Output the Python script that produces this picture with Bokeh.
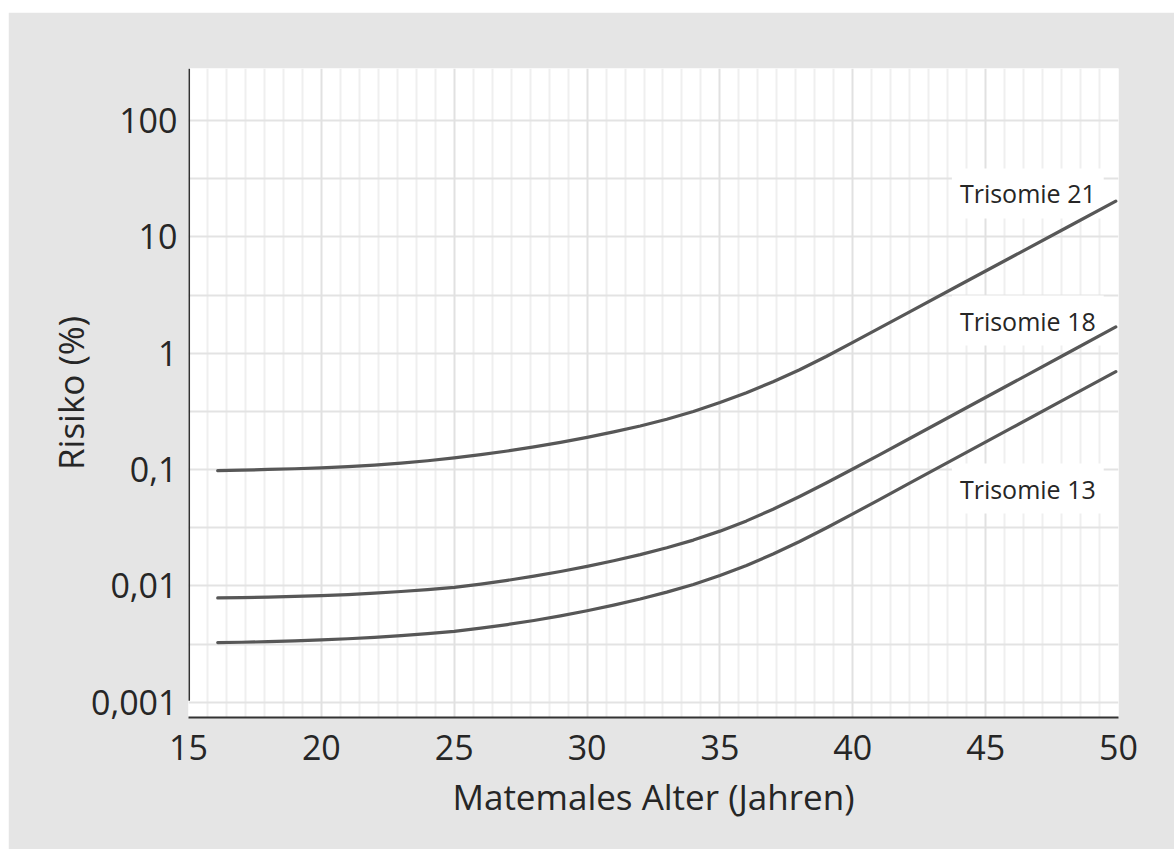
from bokeh.plotting import figure
from bokeh.models import Range1d, FixedTicker, Grid, Label
from bokeh.embed import file_html
from bokeh.resources import INLINE

# ---- data ----
ages = [16.1, 17, 18, 19, 20, 21, 22, 23, 24, 25, 26, 27, 28, 29, 30, 31, 32, 33, 34, 35,
        36, 37, 38, 39, 40, 41, 42, 44, 46, 48, 49.9]
trisomie21 = [0.09795, 0.09886, 0.10023, 0.10162, 0.10328, 0.10593, 0.10940, 0.11376, 0.11912,
              0.12589, 0.13428, 0.14454, 0.15668, 0.17140, 0.18923, 0.21086, 0.23714, 0.27102,
              0.31550, 0.37670, 0.45709, 0.56885, 0.72111, 0.93756, 1.2417, 1.6462, 2.1827,
              3.8371, 6.7453, 11.858, 20.277]
trisomie18 = [0.007889, 0.007943, 0.008017, 0.008128, 0.008260, 0.008433, 0.008670, 0.008954,
              0.009311, 0.009727, 0.010375, 0.011169, 0.012134, 0.013305, 0.014723, 0.016444,
              0.018578, 0.021281, 0.024774, 0.029580, 0.036224, 0.045604, 0.058749, 0.076736,
              0.10116, 0.13397, 0.17783, 0.31405, 0.55463, 0.97949, 1.6827]
trisomie13 = [0.0032584, 0.0032810, 0.0033189, 0.0033729, 0.0034356, 0.0035156, 0.0036141,
              0.0037411, 0.0038905, 0.0040738, 0.0043351, 0.0046559, 0.0050466, 0.0055335,
              0.0061235, 0.0068391, 0.0077268, 0.0088512, 0.010304, 0.012274, 0.014997,
              0.018793, 0.024099, 0.031477, 0.041591, 0.055271, 0.073451, 0.12972, 0.22909,
              0.40458, 0.69502]
series_names = ["Trisomie 21", "Trisomie 18", "Trisomie 13"]
label_y = [23.6, 1.91, 0.0687]   # vertical position of each series label
label_x = 43.73

x_ticks = [15, 20, 25, 30, 35, 40, 45, 50]
y_ticks = [0.001, 0.01, 0.1, 1, 10, 100]
y_tick_labels = ["0,001", "0,01", "0,1", "1", "10", "100"]

X_START, X_END = 15, 50
Y_START, Y_END = 0.00074, 280

FONT = "Open Sans"
TEXT = "#262626"
LINE = "#575757"

p = figure(width=1166, height=837, y_axis_type="log",
           x_range=Range1d(X_START, X_END), y_range=Range1d(Y_START, Y_END),
           output_backend="svg", toolbar_location=None,
           min_border_left=180, min_border_right=56, min_border_top=56, min_border_bottom=132)
p.margin = (12, 0, 0, 8)
p.border_fill_color = "#e5e5e5"
p.background_fill_color = "white"
p.outline_line_color = None

# grids
minor_x = [X_START + k * 5 / 7 for k in range(1, 49) if k % 7 != 0]
p.xgrid.ticker = FixedTicker(ticks=minor_x)
p.xgrid.grid_line_color = "#efefef"
p.xgrid.grid_line_width = 2
p.add_layout(Grid(dimension=0, ticker=FixedTicker(ticks=x_ticks[1:-1]),
                  grid_line_color="#e1e1e1", grid_line_width=2))
half_decades = [10 ** (k / 2) for k in range(-7, 5)]
p.ygrid.ticker = FixedTicker(ticks=half_decades)
p.ygrid.grid_line_color = "#e3e3e3"
p.ygrid.grid_line_width = 2

# labels (white boxes sit under the curves)
for name, ly in zip(series_names, label_y):
    p.add_layout(Label(x=label_x, y=ly, text=name, text_font=FONT, text_font_size="25px",
                       text_color=TEXT, text_baseline="middle", text_align="left",
                       background_fill_color="white", padding=8, level="underlay"))

# curves
for vals in (trisomie21, trisomie18, trisomie13):
    p.line(ages, vals, line_color=LINE, line_width=3.2, line_cap="round", line_join="round")

# axes
p.xaxis.ticker = FixedTicker(ticks=x_ticks)
p.yaxis.ticker = FixedTicker(ticks=y_ticks)
p.yaxis.major_label_overrides = {t: s for t, s in zip(y_ticks, y_tick_labels)}
for ax in (p.xaxis[0], p.yaxis[0]):
    ax.major_tick_line_color = None
    ax.minor_tick_line_color = None
    ax.major_label_text_font = FONT
    ax.major_label_text_font_size = "34px"
    ax.major_label_text_color = TEXT
    ax.axis_label_text_font = FONT
    ax.axis_label_text_font_size = "35px"
    ax.axis_label_text_font_style = "normal"
    ax.axis_label_text_color = TEXT
p.xaxis.major_label_standoff = 11
p.yaxis.major_label_standoff = 5
p.xaxis.axis_label = "Matemales Alter (Jahren)"
p.yaxis.axis_label = "Risiko (%)"
p.xaxis.axis_line_color = "#333333"
p.xaxis.axis_line_width = 2
p.xaxis.axis_label_standoff = 10
p.yaxis.axis_label_standoff = -6
p.yaxis.axis_line_color = None
# y axis line stops just above the x axis, as in the original
p.segment(x0=[X_START + 0.02], y0=[0.00103], x1=[X_START + 0.02], y1=[Y_END],
          line_color="#333333", line_width=2)

open("out.html", "w").write(file_html(p, INLINE))
